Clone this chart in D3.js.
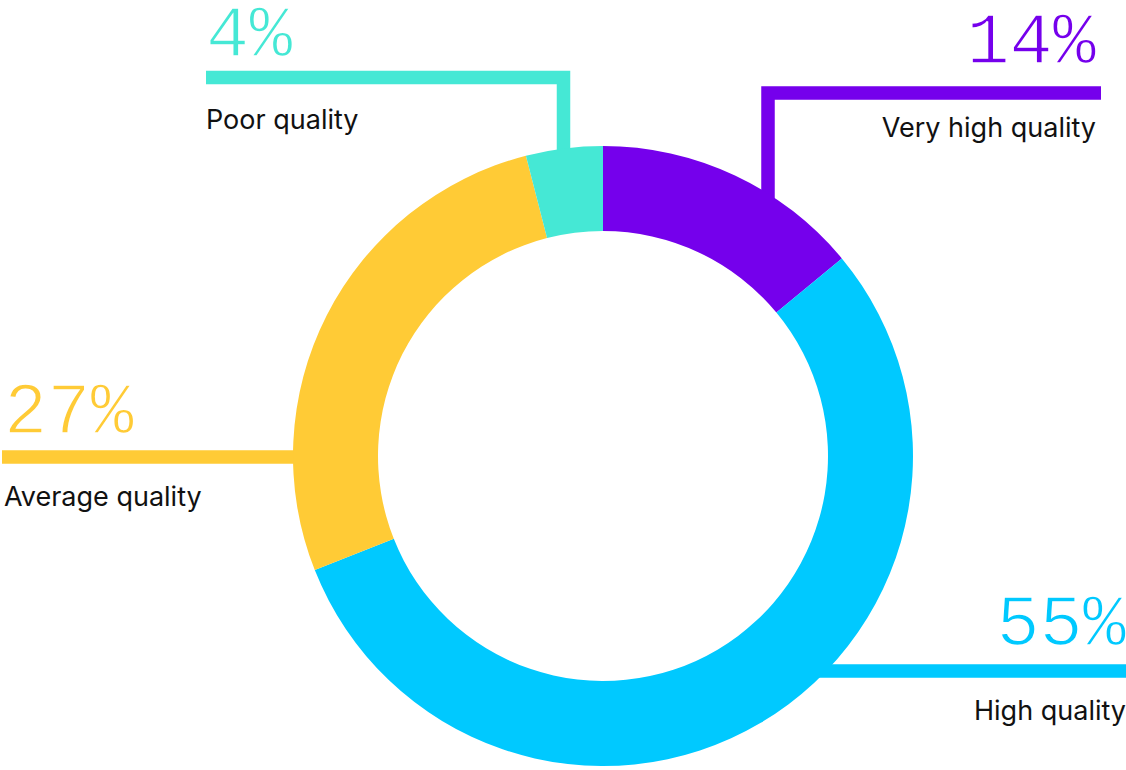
<!DOCTYPE html>
<html>
<head>
<meta charset="utf-8">
<script src="https://cdn.jsdelivr.net/npm/d3@7"></script>
<style>
  html, body { margin: 0; padding: 0; background: #fff; }
  svg { display: block; }
</style>
</head>
<body>
<svg id="chart" width="1126" height="770"></svg>
<script>
// Quality distribution, clockwise from 12 o'clock
const categories = ["Very high quality", "High quality", "Average quality", "Poor quality"];
const shares = [14, 55, 27, 4];
const valueLabels = ["14%", "55%", "27%", "4%"];
const colors = ["#7500EC", "#00C9FF", "#FFCB36", "#45E8D5"];

const W = 1126, H = 770;
const cx = 603, cy = 456;
const outerR = 310, innerR = 225;
const lineW = 13.5;

const svg = d3.select("#chart");

const pie = d3.pie().value(d => d).sort(null);
const arcs = pie(shares);
const arc = d3.arc().innerRadius(innerR).outerRadius(outerR);
const color = d3.scaleOrdinal().domain(categories).range(colors);

// Callout geometry for each slice: leader path, value label and category label
const callouts = [
  { path: [[1101, 93], [768, 93], [768, 210]], anchor: "end", x: 1096, valueY: 63, textY: 137 },
  { path: [[1126, 671], [800, 671]], anchor: "end", x: 1126, valueY: 645, textY: 720 },
  { path: [[2, 457], [310, 457]], anchor: "start", x: 4, valueY: 433, textY: 506 },
  { path: [[206, 77.5], [563.5, 77.5], [563.5, 170]], anchor: "start", x: 206, valueY: 56, textY: 129 }
];

const line = d3.line();
const g = svg.append("g");

// leader lines sit beneath the ring
g.selectAll("path.leader")
  .data(callouts)
  .join("path")
  .attr("class", "leader")
  .attr("d", d => line(d.path))
  .attr("fill", "none")
  .attr("stroke", (d, i) => color(categories[i]))
  .attr("stroke-width", lineW)
  .attr("stroke-linejoin", "miter")
  .attr("stroke-linecap", "butt");

// donut ring
g.append("g")
  .attr("transform", `translate(${cx},${cy})`)
  .selectAll("path")
  .data(arcs)
  .join("path")
  .attr("d", arc)
  .attr("fill", (d, i) => color(categories[i]));

// percentage values: monospaced, thinned with a white outline drawn over the fill
g.selectAll("text.value")
  .data(callouts)
  .join("text")
  .attr("class", "value")
  .attr("x", d => d.x)
  .attr("y", d => d.valueY)
  .attr("text-anchor", d => d.anchor)
  .attr("fill", (d, i) => color(categories[i]))
  .attr("stroke", "#fff")
  .attr("stroke-width", 1.6)
  .style("paint-order", "fill")
  .style("font-family", "'Liberation Mono', 'DejaVu Sans Mono', monospace")
  .style("font-size", "72px")
  .text((d, i) => valueLabels[i]);

// category names
g.selectAll("text.name")
  .data(callouts)
  .join("text")
  .attr("class", "name")
  .attr("x", d => d.x)
  .attr("y", d => d.textY)
  .attr("text-anchor", d => d.anchor)
  .attr("fill", "#111")
  .style("font-family", "Inter, 'Noto Sans', sans-serif")
  .style("font-size", "27px")
  .text((d, i) => categories[i]);
</script>
</body>
</html>
